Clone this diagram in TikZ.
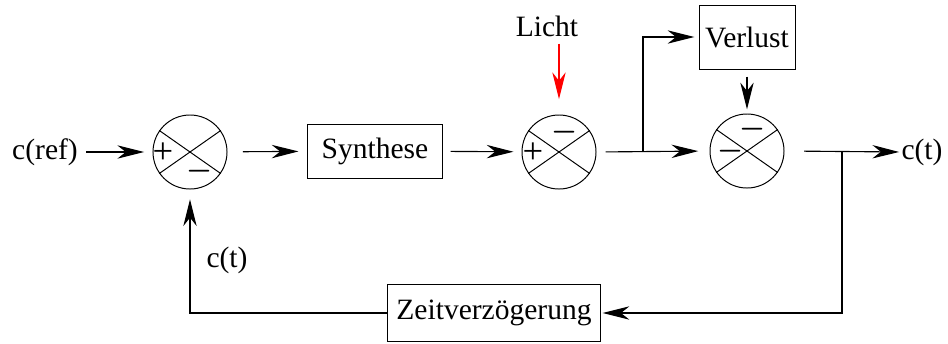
\documentclass[tikz,border=0pt]{standalone}
\usepackage{bm}
\usepackage{fontspec}
\setmainfont{Liberation Serif}
\usetikzlibrary{arrows.meta, positioning, calc}

\tikzset{
  block/.style={draw, line width=0.7pt, inner sep=0pt, font=\fontsize{21}{24}\selectfont},
  sumpt/.style={draw, circle, line width=0.7pt, minimum size=1.85cm, inner sep=0pt},
  txt/.style={inner sep=0pt, font=\fontsize{21}{24}\selectfont},
  sgn/.style={inner sep=0pt, font=\fontsize{20}{24}\selectfont},
  plus/.style={inner sep=0pt, font=\fontsize{26}{28}\selectfont},
  sig/.style={line width=0.8pt, -{Stealth[length=19pt, width=9.5pt, inset=6pt]}},
}

\begin{document}
\begin{tikzpicture}[x=0.025cm, y=-0.025cm]
\useasboundingbox (0,0) rectangle (948,343);

% summing points
\node[sumpt] (sum1) at (190,152) {};
\node[sumpt] (sum2) at (559,152) {};
\node[sumpt] (sum3) at (747,151) {};
\foreach \s in {sum1,sum2,sum3}{
  \draw[line width=0.7pt] (\s.145) -- (\s.-35);
  \draw[line width=0.7pt] (\s.35) -- (\s.-145);
}

% signs
\node[plus] (p1) at ($(sum1)+(-27,1)$) {+};
\node[sgn] (m1) at ($(sum1)+(10,19)$) {$\bm{-}$};
\node[plus] (p2) at ($(sum2)+(-26,1)$) {+};
\node[sgn] (m2) at ($(sum2)+(6,-20)$) {$\bm{-}$};
\node[sgn] (m3) at ($(sum3)+(6,-22)$) {$\bm{-}$};
\node[sgn] (m4) at ($(sum3)+(-16,0)$) {$\bm{-}$};

% blocks
\node[block, minimum width=3.35cm, minimum height=1.35cm] (synth) at (375,151) {Synthese};
\node[block, minimum width=2.4cm, minimum height=1.6cm] (verlust) at (747,37) {Verlust};
\node[block, minimum width=5.3cm, minimum height=1.425cm] (zeit) at (494,313) {Zeitverzögerung};

% texts
\node[txt] (cref) at (45,152) {c(ref)};
\node[txt] (licht) at (547,26) {Licht};
\node[txt] (cout) at (922,152) {c(t)};
\node[txt] (cfb) at (227,260) {c(t)};

\coordinate (br1) at (643,152);
\coordinate (br2) at (842,152);

% forward path
\draw[sig, shorten <=6pt, shorten >=6pt] (cref) -- (sum1);
\draw[sig, shorten <=11pt, shorten >=6.4pt] (sum1) -- (synth);
\draw[sig, shorten <=5.7pt, shorten >=5.7pt] (synth) -- (sum2);
\draw[sig, shorten <=6.4pt, shorten >=8pt] (sum2.east) -- (sum3.west);
\draw[sig, shorten <=14pt, shorten >=1.5pt] (sum3.east) -- (cout.west);

% disturbances
\draw[sig, red, shorten <=5pt, shorten >=11pt] (licht.south -| sum2.north) -- (sum2.north);
\draw[sig, shorten >=3pt] (br1) |- (verlust.west);
\draw[sig, shorten <=5pt, shorten >=3pt] (verlust.south) -- (sum3.north);

% feedback
\draw[sig, shorten >=1.5pt] (br2) |- (zeit.east);
\draw[sig, shorten >=7pt] (zeit.west) -| (sum1.south);
\end{tikzpicture}
\end{document}
